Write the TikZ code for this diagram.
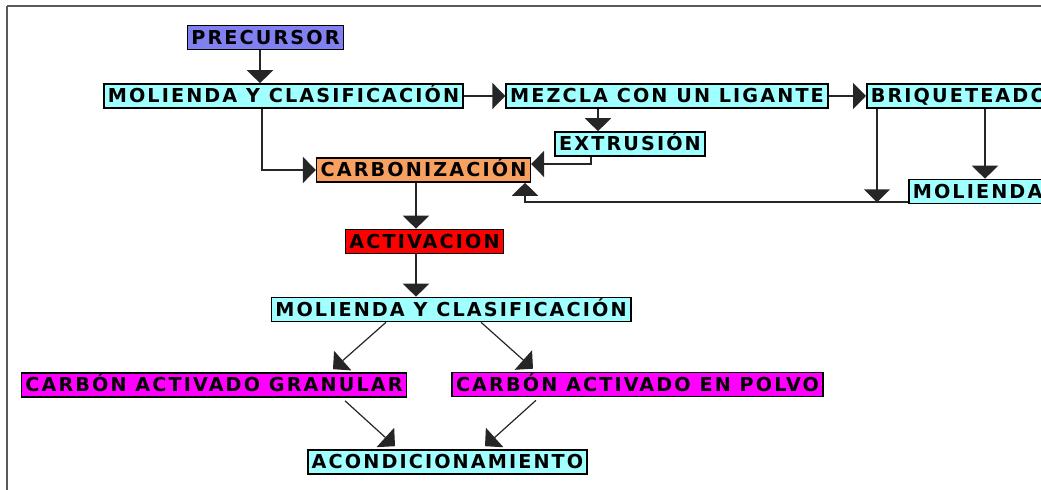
\documentclass[tikz,border=0pt]{standalone}
\usepackage{fontspec}
\newfontfamily\boxfont[LetterSpace=11]{DejaVu Sans}
\usetikzlibrary{positioning,calc}
\usetikzlibrary{arrows.meta}

\definecolor{preblue}{RGB}{128,128,240}
\definecolor{lightcyan}{RGB}{160,255,255}
\definecolor{carborange}{RGB}{248,160,96}
\definecolor{actred}{RGB}{255,0,0}
\definecolor{prodmagenta}{RGB}{255,0,255}
\definecolor{framegray}{RGB}{90,90,90}

\begin{document}
\begin{tikzpicture}[x = 0.5pt, y = -0.5pt, > = {Triangle[width=13pt,length=6.5pt]}, line width = 0.9pt]
\tikzstyle{stage}=[
  draw = black,
  line width = 0.8pt,
  font = \boxfont\bfseries\fontsize{9.6}{10}\selectfont,
  inner xsep = 2pt,
  inner ysep = 0pt,
  minimum height = 12pt,
  text height = 7pt,
  text depth = 0pt,
  fill = lightcyan
]
\tikzstyle{arr}=[->, draw = black!85]
\tikzstyle{diag}=[->, draw = black!85, line width = 0.6pt]

\useasboundingbox (0,0) rectangle (1041,490);
\clip (0,0) rectangle (1041,490);

% frame
\draw[framegray, line width = 0.7pt] (7,6) -- (1041,6);
\draw[framegray, line width = 1pt] (7,6) -- (7,490);

% stages
\node[stage, fill = preblue] (pre) at (265.5,37.5) {PRECURSOR};
\node[stage] (mol1) at (283.5,96) {MOLIENDA Y CLASIFICACIÓN};
\node[stage] (mez) at (667,96) {MEZCLA CON UN LIGANTE};
\node[stage, anchor = west] (bri) at (866,96) {BRIQUETEADO};
\node[stage] (ext) at (630,144) {EXTRUSIÓN};
\node[stage, fill = carborange] (carb) at (423.5,170) {CARBONIZACIÓN};
\node[stage, anchor = west] (mol3) at (908,191.5) {MOLIENDA};
\node[stage, fill = actred] (act) at (424.5,241.5) {ACTIVACION};
\node[stage] (mol2) at (451,309.5) {MOLIENDA Y CLASIFICACIÓN};
\node[stage, fill = prodmagenta] (cag) at (214,385) {CARBÓN ACTIVADO GRANULAR};
\node[stage, fill = prodmagenta] (cap) at (637.5,384.5) {CARBÓN ACTIVADO EN POLVO};
\node[stage] (acond) at (447.5,462) {ACONDICIONAMIENTO};

% helper points
\coordinate (p1) at ([xshift=-2.75pt]pre.south);
\coordinate (m1) at ([xshift=-10.75pt]mol1.south);
\coordinate (mz) at ([xshift=-16pt]ext.north);
\coordinate (ex) at ([xshift=-19.5pt]ext.south);
\coordinate (b1) at ([xshift=5.5pt]bri.south west);
\coordinate (b2) at ([xshift=38.5pt]mol3.north west);
\coordinate (ret) at ([yshift=1pt]mol3.south west);
\coordinate (cb) at ([xshift=50.75pt]carb.south);
\coordinate (c2) at ([xshift=-3.75pt]carb.south);

% connectors
\draw[arr] (p1) -- (p1 |- mol1.north);
\draw[arr] (mol1.east) -- (mez.west);
\draw[arr] (mez.east) -- (bri.west);
\draw[arr] (mz |- mez.south) -- (mz);
\draw[arr] (ex) |- ([yshift=3pt]carb.east);
\draw[arr] (m1) |- (carb.west);
\draw[arr] (b1) -- (b1 |- ret);
\draw[arr] (b2 |- bri.south) -- (b2);
\draw[arr] (ret) -| (cb);
\draw[arr] (c2) -- (c2 |- act.north);
\draw[arr] (c2 |- act.south) -- (c2 |- mol2.north);
\draw[diag] ([xshift=-32.5pt]mol2.south) -- ([xshift=59.5pt,yshift=1.5pt]cag.north);
\draw[diag] ([xshift=15pt]mol2.south) -- ([xshift=-52.25pt,yshift=1.5pt]cap.north);
\draw[diag] ([xshift=65.5pt,yshift=-1.5pt]cag.south) -- ([xshift=-26.25pt,yshift=1.5pt]acond.north);
\draw[diag] ([xshift=-50.75pt,yshift=-1.5pt]cap.south) -- ([xshift=18.75pt,yshift=1.5pt]acond.north);
\end{tikzpicture}
\end{document}
